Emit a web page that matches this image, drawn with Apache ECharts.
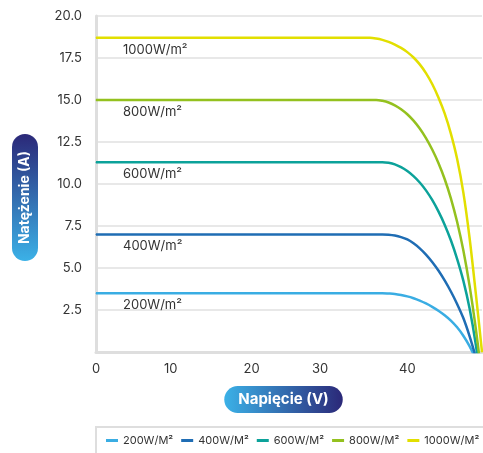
<!DOCTYPE html>
<html>
<head>
<meta charset="utf-8">
<script src="https://cdn.jsdelivr.net/npm/echarts@6/dist/echarts.min.js"></script>
<style>
html,body{margin:0;padding:0;background:#fff;}
#chart{width:483px;height:453px;}
</style>
</head>
<body>
<div id="chart"></div>
<script>
// Voltage categories (V)
var voltage = [
  '0','0.8','1.7','2.5','3.3','4.2','5','5.8','6.7','7.5','8.3','9.2','10',
  '10.8','11.5','12.3','13.1','13.8','14.6','15.4','16.2','16.9','17.7','18.5','19.2','20',
  '20.9','21.8','22.7','23.6','24.5','25.5','26.4','27.3','28.2','29.1','30',
  '30.7','31.4','32.1','32.9','33.6','34.3','35','35.7','36.4','37.1','37.9','38.6','39.3','40',
  '40.8','41.5','42.3','43','43.8','44.5','45.3','46','46.8','47.5','48.3','49'
];
var xTickLabels = ['0','10','20','30','40'];

var seriesNames = ['200W/M²','400W/M²','600W/M²','800W/M²','1000W/M²'];
var curveLabels = ['200W/m²','400W/m²','600W/m²','800W/m²','1000W/m²'];
var colors = ['#3aade3','#1f6db4','#0ca29a','#94c11f','#e2df00'];

var i200 = [
  3.5,3.5,3.5,3.5,3.5,3.5,3.5,3.5,3.5,3.5,3.5,3.5,3.5,
  3.5,3.5,3.5,3.5,3.5,3.5,3.5,3.5,3.5,3.5,3.5,3.5,3.5,
  3.5,3.5,3.5,3.5,3.5,3.5,3.5,3.5,3.5,3.5,3.5,
  3.5,3.5,3.5,3.5,3.5,3.5,3.5,3.5,3.5,3.5,3.48,3.45,3.39,3.31,
  3.2,3.06,2.89,2.69,2.46,2.19,1.87,1.47,0.97,0.35,-0.4,null
];
var i400 = [
  7.0,7.0,7.0,7.0,7.0,7.0,7.0,7.0,7.0,7.0,7.0,7.0,7.0,
  7.0,7.0,7.0,7.0,7.0,7.0,7.0,7.0,7.0,7.0,7.0,7.0,7.0,
  7.0,7.0,7.0,7.0,7.0,7.0,7.0,7.0,7.0,7.0,7.0,
  7.0,7.0,7.0,7.0,7.0,7.0,7.0,7.0,7.0,7.0,6.98,6.93,6.84,6.7,
  6.47,6.17,5.8,5.36,4.85,4.26,3.6,2.86,2.02,0.95,-0.3,null
];
var i600 = [
  11.3,11.3,11.3,11.3,11.3,11.3,11.3,11.3,11.3,11.3,11.3,11.3,11.3,
  11.3,11.3,11.3,11.3,11.3,11.3,11.3,11.3,11.3,11.3,11.3,11.3,11.3,
  11.3,11.3,11.3,11.3,11.3,11.3,11.3,11.3,11.3,11.3,11.3,
  11.3,11.3,11.3,11.3,11.3,11.3,11.3,11.3,11.3,11.3,11.26,11.17,11.0,10.77,
  10.47,10.09,9.62,9.05,8.37,7.58,6.65,5.55,4.25,2.6,0.45,-2.3
];
var i800 = [
  15.0,15.0,15.0,15.0,15.0,15.0,15.0,15.0,15.0,15.0,15.0,15.0,15.0,
  15.0,15.0,15.0,15.0,15.0,15.0,15.0,15.0,15.0,15.0,15.0,15.0,15.0,
  15.0,15.0,15.0,15.0,15.0,15.0,15.0,15.0,15.0,15.0,15.0,
  15.0,15.0,15.0,15.0,15.0,15.0,15.0,15.0,15.0,14.95,14.85,14.68,14.45,14.15,
  13.77,13.3,12.73,12.05,11.25,10.3,9.15,7.75,6.05,3.95,1.4,-1.6
];
var i1000 = [
  18.7,18.7,18.7,18.7,18.7,18.7,18.7,18.7,18.7,18.7,18.7,18.7,18.7,
  18.7,18.7,18.7,18.7,18.7,18.7,18.7,18.7,18.7,18.7,18.7,18.7,18.7,
  18.7,18.7,18.7,18.7,18.7,18.7,18.7,18.7,18.7,18.7,18.7,
  18.7,18.7,18.7,18.7,18.7,18.7,18.7,18.7,18.66,18.58,18.46,18.3,18.1,17.85,
  17.53,17.12,16.6,15.95,15.15,14.2,13.0,11.5,9.5,6.8,3.5,0
];
var currents = [i200, i400, i600, i800, i1000];

var FONT = 'Inter, "Noto Sans", sans-serif';
var pillGradient = {
  type: 'linear', x: 0, y: 0, x2: 1, y2: 0,
  colorStops: [{offset: 0, color: '#3bb1e7'}, {offset: 1, color: '#2b2878'}]
};

var series = currents.map(function (arr, k) {
  return {
    name: seriesNames[k],
    type: 'line',
    smooth: 0.35,
    symbol: 'circle',
    symbolSize: 1,
    showSymbol: true,
    showAllSymbol: true,
    clip: true,
    color: colors[k],
    itemStyle: {color: colors[k]},
    lineStyle: {width: 2.5, color: colors[k]},
    data: arr.map(function (v, i) {
      if (i === 0) {
        return {
          value: v,
          label: {
            show: true,
            position: 'bottom',
            align: 'left',
            distance: 5,
            offset: [27, 0],
            formatter: curveLabels[k],
            color: '#333',
            fontSize: 13,
            fontFamily: FONT
          }
        };
      }
      return v;
    })
  };
});

var chart = echarts.init(document.getElementById('chart'), null, {renderer: 'canvas'});
chart.setOption({
  animation: false,
  backgroundColor: '#fff',
  textStyle: {fontFamily: FONT},
  grid: {left: 96, right: 1, top: 16, bottom: 101, containLabel: false},
  legend: {
    left: 96, top: 427, width: 470,
    padding: [8, 10, 8, 10],
    borderColor: '#dedede', borderWidth: 2,
    icon: 'rect',
    itemWidth: 12, itemHeight: 3, itemGap: 8,
    textStyle: {fontSize: 11, color: '#333', fontFamily: FONT},
    data: seriesNames
  },
  xAxis: {
    type: 'category',
    data: voltage,
    boundaryGap: false,
    name: '{t|Napięcie (V)}{g|}',
    nameLocation: 'middle',
    nameGap: 34,
    nameTextStyle: {
      rich: {
        t: {
          color: '#fff', fontSize: 15, fontWeight: 'bold', fontFamily: FONT,
          backgroundColor: pillGradient, borderRadius: 14,
          height: 27, lineHeight: 27, padding: [0, 14, 0, 14]
        },
        g: {width: 11, height: 27}
      }
    },
    axisLine: {show: true, lineStyle: {color: '#dedede', width: 3}},
    axisTick: {show: false},
    splitLine: {show: false},
    axisLabel: {
      color: '#333', fontSize: 13, margin: 11,
      interval: function (idx, val) { return xTickLabels.indexOf(val) >= 0; }
    }
  },
  yAxis: {
    type: 'value',
    min: 0, max: 20, interval: 2.5,
    name: '{t|Natężenie (A)}{g|}',
    nameLocation: 'middle',
    nameRotate: 90,
    nameGap: 58,
    nameTextStyle: {
      rich: {
        t: {
          color: '#fff', fontSize: 14, fontWeight: 'bold', fontFamily: FONT,
          backgroundColor: pillGradient, borderRadius: 13,
          height: 26, lineHeight: 26, padding: [0, 17, 0, 17]
        },
        g: {width: 27, height: 26}
      }
    },
    axisLine: {show: true, lineStyle: {color: '#dedede', width: 3}},
    axisTick: {show: false},
    splitLine: {show: true, lineStyle: {color: '#e0e0e0', width: 1.5}},
    axisLabel: {
      color: '#333', fontSize: 13, margin: 14,
      formatter: function (v) { return v === 0 ? '' : v.toFixed(1); }
    }
  },
  series: series
});
</script>
</body>
</html>
